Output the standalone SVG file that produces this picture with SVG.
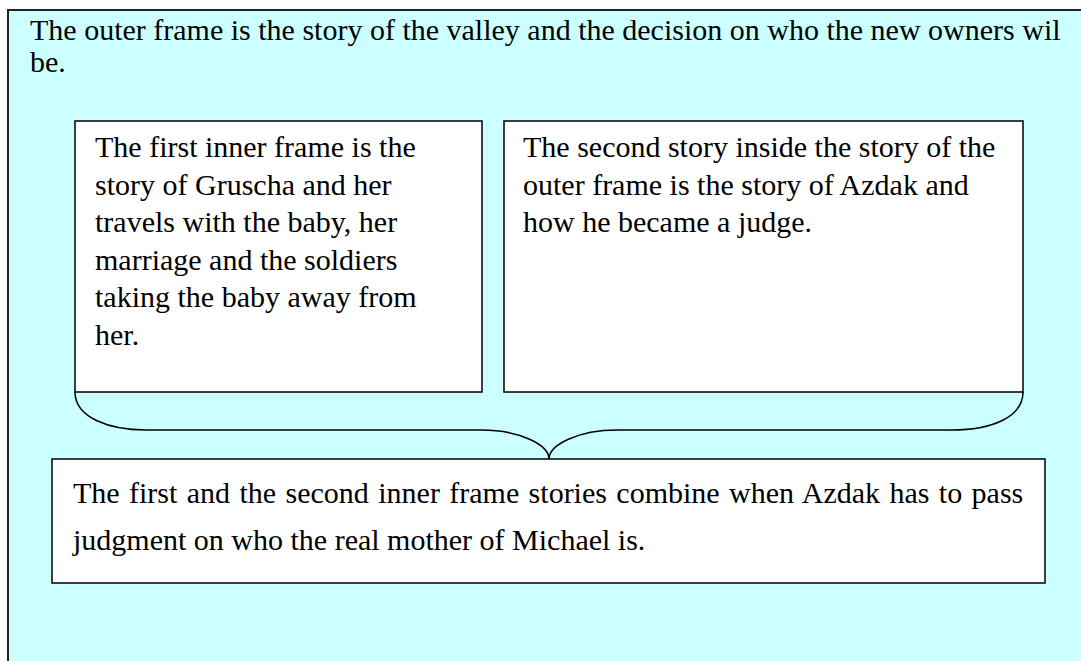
<svg xmlns="http://www.w3.org/2000/svg" width="1081" height="661" viewBox="0 0 1081 661">
<style>
text{font-family:"Liberation Serif","Times New Roman",serif;font-size:30px;fill:#000}
.box{fill:#fff;stroke:#000;stroke-width:1.5}
.frame{fill:#ccffff;stroke:#222;stroke-width:2}
.brace{fill:none;stroke:#000;stroke-width:1.5}
</style>
<rect width="1081" height="661" fill="#fff"/>
<g id="outer">
<rect class="frame" x="8" y="10" width="1100" height="700"/>
<text x="30" y="40">The outer frame is the story of the valley and the decision on who the new owners wil</text>
<text x="30" y="72">be.</text>
</g>
<g id="inner1">
<rect class="box" x="75" y="121" width="407" height="271"/>
<text x="95" y="157">The first inner frame is the</text>
<text x="95" y="194.5">story of Gruscha and her</text>
<text x="95" y="232">travels with the baby, her</text>
<text x="95" y="269.5">marriage and the soldiers</text>
<text x="95" y="307">taking the baby away from</text>
<text x="95" y="344.5">her.</text>
</g>
<g id="inner2">
<rect class="box" x="504" y="121" width="519" height="271"/>
<text x="523" y="157">The second story inside the story of the</text>
<text x="523" y="194.5">outer frame is the story of Azdak and</text>
<text x="523" y="232">how he became a judge.</text>
</g>
<g id="connectors">
<path class="brace" d="M75,392 C75,418 110,430 146,430 L481,430 C520,430 549,445 549,459 C549,445 578,430 617,430 L952,430 C990,430 1023,418 1023,392"/>
</g>
<g id="combined">
<rect class="box" x="52" y="459" width="993" height="124"/>
<text x="73" y="503" word-spacing="1.9">The first and the second inner frame stories combine when Azdak has to pass</text>
<text x="73" y="550">judgment on who the real mother of Michael is.</text>
</g>
</svg>
